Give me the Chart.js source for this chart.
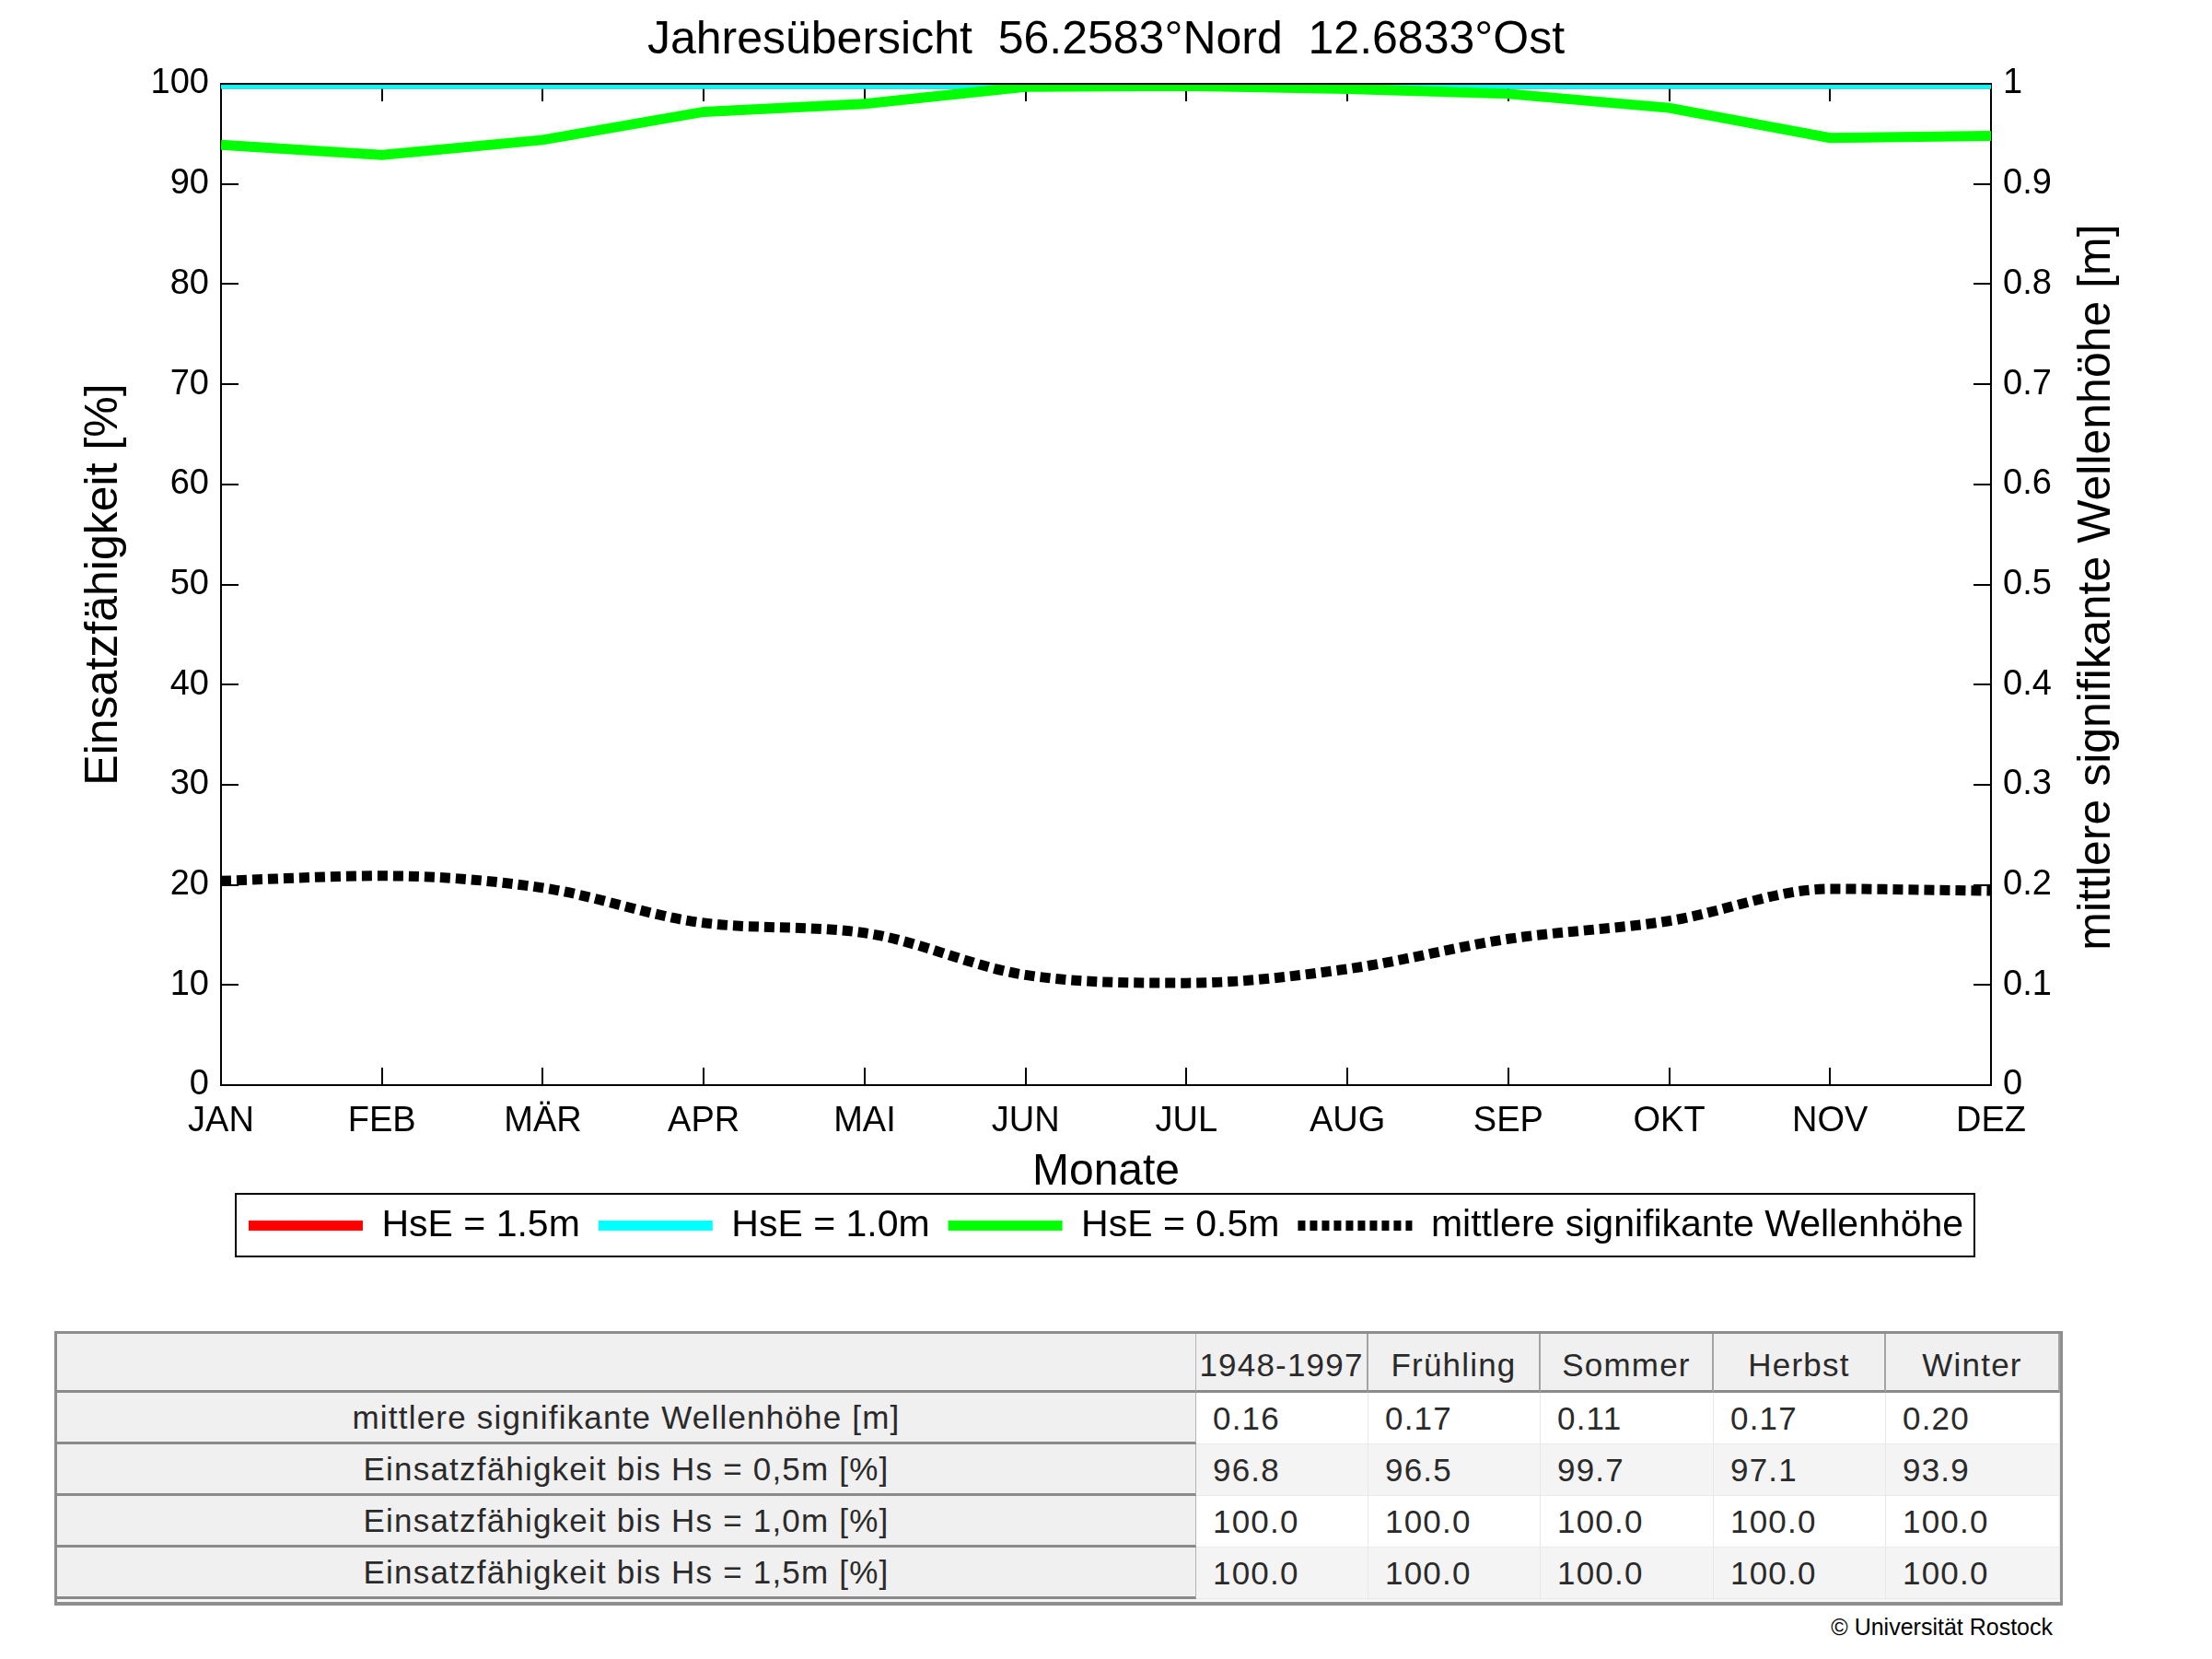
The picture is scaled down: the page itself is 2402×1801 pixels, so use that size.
<!DOCTYPE html>
<html>
<head>
<meta charset="utf-8">
<title>Jahresübersicht</title>
<script src="https://cdn.jsdelivr.net/npm/chart.js@4.4.1/dist/chart.umd.min.js"></script>
<style>
body{margin:0;background:#fff;font-family:"Liberation Sans",Arial,sans-serif;}
#page{position:relative;width:2402px;height:1801px;overflow:hidden;background:#fff;}
#chartBox{position:absolute;left:0;top:0;width:2402px;height:1390px;}
#tbl{position:absolute;left:59px;top:1445px;width:2181px;height:298px;box-sizing:border-box;
  border:3px solid #8e8e8e;border-bottom-width:4px;background:#f6f6f6;
  display:grid;grid-template-columns:1237px 187px 187px 188px 187px 189px;
  grid-template-rows:64px 56px 56px 56px 56px;align-content:start;}
#tbl div{box-sizing:border-box;font-size:35px;letter-spacing:1.2px;color:#2a2a2a;display:flex;align-items:center;white-space:nowrap;}
#tbl .hd{background:#f0f0f0;border-bottom:3px solid #8a8a8a;border-right:2px solid #a3a3a3;justify-content:center;padding-top:6px;}
#tbl .lb{background:#f0f0f0;border-bottom:3px solid #8a8a8a;border-right:1px solid #b5b5b5;justify-content:center;}
#tbl .dc{border-bottom:1px solid #ebebeb;border-right:1px solid #e8e8e8;padding-left:18px;}
#tbl .w{background:#fff;}
#tbl .g{background:#f4f4f4;}
#copy{position:absolute;right:173px;top:1752px;font-size:25px;color:#000;}
</style>
</head>
<body>
<div id="page">
  <div id="chartBox"><canvas id="my_chart"></canvas></div>
  <div id="tbl"></div>
  <div id="copy">© Universität Rostock</div>
</div>
<script>
// Monatswerte
const months = ['JAN','FEB','MÄR','APR','MAI','JUN','JUL','AUG','SEP','OKT','NOV','DEZ'];
const hse15 = [100,100,100,100,100,100,100,100,100,100,100,100];
const hse10 = [100,100,100,100,100,100,100,100,100,100,100,100];
const hse05 = [93.9,92.9,94.4,97.2,98.0,99.7,99.8,99.5,99.0,97.6,94.6,94.8];
const waveHeight = [0.204,0.209,0.197,0.162,0.152,0.110,0.102,0.116,0.146,0.164,0.196,0.194];

// Tabelle
const tableCols = ['1948-1997','Frühling','Sommer','Herbst','Winter'];
const tableLabels = ['mittlere signifikante Wellenhöhe [m]','Einsatzfähigkeit bis Hs = 0,5m [%]','Einsatzfähigkeit bis Hs = 1,0m [%]','Einsatzfähigkeit bis Hs = 1,5m [%]'];
const tableWave = ['0.16','0.17','0.11','0.17','0.20'];
const table05 = ['96.8','96.5','99.7','97.1','93.9'];
const table10 = ['100.0','100.0','100.0','100.0','100.0'];
const table15 = ['100.0','100.0','100.0','100.0','100.0'];

const FONT = '"Liberation Sans", Arial, sans-serif';
Chart.defaults.font.family = FONT;
Chart.defaults.color = '#000';

// table
const tbl = document.getElementById('tbl');
let html = '<div class="hd" style="border-right:1px solid #b5b5b5"></div>';
tableCols.forEach(c => { html += '<div class="hd">' + c + '</div>'; });
[tableWave, table05, table10, table15].forEach((row, r) => {
  html += '<div class="lb">' + tableLabels[r] + '</div>';
  row.forEach(v => { html += '<div class="dc ' + (r % 2 ? 'g' : 'w') + '">' + v + '</div>'; });
});
tbl.innerHTML = html;

// inward ticks, top frame line, right axis title, legend frame
const boxTicks = {
  id: 'boxTicks',
  beforeDatasetsDraw(chart) {
    const {ctx, chartArea: a, scales} = chart;
    const len = 19;
    ctx.save();
    ctx.strokeStyle = '#000';
    ctx.lineWidth = 2;
    ctx.beginPath();
    scales.x.ticks.forEach((t, i) => {
      const x = Math.round(scales.x.getPixelForTick(i));
      ctx.moveTo(x, a.bottom); ctx.lineTo(x, a.bottom - len);
      ctx.moveTo(x, a.top); ctx.lineTo(x, a.top + len);
    });
    scales.y.ticks.forEach((t, i) => {
      const y = Math.round(scales.y.getPixelForTick(i));
      ctx.moveTo(a.left, y); ctx.lineTo(a.left + len, y);
    });
    scales.y2.ticks.forEach((t, i) => {
      const y = Math.round(scales.y2.getPixelForTick(i));
      ctx.moveTo(a.right, y); ctx.lineTo(a.right - len, y);
    });
    ctx.stroke();
    ctx.restore();
  },
  afterDraw(chart) {
    const {ctx, chartArea: a} = chart;
    ctx.save();
    ctx.strokeStyle = '#000';
    ctx.lineWidth = 2;
    ctx.beginPath();
    ctx.moveTo(a.left - 1, a.top); ctx.lineTo(a.right + 1, a.top);
    ctx.stroke();
    // right title, reads bottom to top
    ctx.fillStyle = '#000';
    ctx.font = '50px ' + FONT;
    ctx.textAlign = 'center';
    ctx.textBaseline = 'middle';
    ctx.translate(2277, (a.top + a.bottom) / 2 + 3);
    ctx.rotate(-Math.PI / 2);
    ctx.fillText('mittlere signifikante Wellenhöhe [m]', 0, 0);
    ctx.restore();
    // legend frame
    const hb = chart.legend.legendHitBoxes;
    if (hb && hb.length) {
      const last = hb[hb.length - 1];
      const cy = Math.round(hb[0].top + hb[0].height / 2);
      const l = Math.round(hb[0].left - 14), r = Math.round(last.left + last.width + 12);
      ctx.save();
      ctx.strokeStyle = '#000';
      ctx.lineWidth = 2;
      ctx.strokeRect(l, cy - 35, r - l, 68);
      ctx.restore();
    }
  }
};

const ctx = document.getElementById('my_chart').getContext('2d');
const myChart = new Chart(ctx, {
  type: 'line',
  data: {
    labels: months,
    datasets: [
      {label: 'HsE = 1.5m', data: hse15, borderColor: '#ff0000', backgroundColor: '#ff0000', borderWidth: 11, order: 4, yAxisID: 'y'},
      {label: 'HsE = 1.0m', data: hse10, borderColor: '#00ffff', backgroundColor: '#00ffff', borderWidth: 11, order: 3, yAxisID: 'y'},
      {label: 'HsE = 0.5m', data: hse05, borderColor: '#00ff00', backgroundColor: '#00ff00', borderWidth: 11, order: 2, yAxisID: 'y'},
      {label: 'mittlere signifikante Wellenhöhe', data: waveHeight, borderColor: '#000', backgroundColor: '#000', borderWidth: 11,
       borderDash: [11, 6], cubicInterpolationMode: 'monotone', order: 1, yAxisID: 'y2'}
    ]
  },
  options: {
    responsive: true,
    maintainAspectRatio: false,
    devicePixelRatio: 1,
    animation: false,
    datasets: {line: {pointRadius: 0, pointHoverRadius: 0, pointStyle: 'line', clip: 0, borderCapStyle: 'butt', fill: false}},
    layout: {padding: {left: 0, right: 0, top: 0, bottom: 29}},
    plugins: {
      title: {
        display: true,
        text: 'Jahresübersicht  56.2583°Nord  12.6833°Ost',
        color: '#000',
        font: {size: 50, weight: 'normal', lineHeight: 1.2},
        padding: {top: 14, bottom: 17}
      },
      legend: {
        position: 'bottom',
        labels: {
          usePointStyle: true,
          pointStyleWidth: 124,
          padding: 20,
          color: '#000',
          font: {size: 41},
          sort: (a, b) => a.datasetIndex - b.datasetIndex,
          generateLabels: chart => Chart.defaults.plugins.legend.labels.generateLabels(chart).map(item => {
            const ds = chart.data.datasets[item.datasetIndex];
            item.strokeStyle = ds.borderColor;
            item.lineWidth = 11;
            item.lineDash = ds.borderDash ? [8, 5] : [];
            item.pointStyle = 'line';
            return item;
          })
        }
      },
      tooltip: {enabled: false}
    },
    scales: {
      x: {
        grid: {drawOnChartArea: false, drawTicks: false},
        border: {color: '#000', width: 2},
        ticks: {font: {size: 38}, padding: 17, autoSkip: false, maxRotation: 0},
        title: {display: true, text: 'Monate', font: {size: 48, lineHeight: 0.8}, padding: {top: 0, bottom: -2}},
        afterFit: s => { s.height = 112; }
      },
      y: {
        position: 'left',
        min: 0, max: 100,
        grid: {drawOnChartArea: false, drawTicks: false},
        border: {color: '#000', width: 2},
        ticks: {stepSize: 10, font: {size: 38}, padding: 13},
        title: {display: true, text: 'Einsatzfähigkeit [%]', font: {size: 50, lineHeight: 1.2}, padding: {top: 83, bottom: 0}},
        afterFit: s => { s.width = 240; }
      },
      y2: {
        position: 'right',
        min: 0, max: 1,
        grid: {drawOnChartArea: false, drawTicks: false},
        border: {color: '#000', width: 2},
        ticks: {stepSize: 0.1, font: {size: 38}, padding: 13, callback: v => String(Math.round(v * 10) / 10)},
        afterFit: s => { s.width = 240; }
      }
    }
  },
  plugins: [boxTicks]
});
</script>
</body>
</html>
